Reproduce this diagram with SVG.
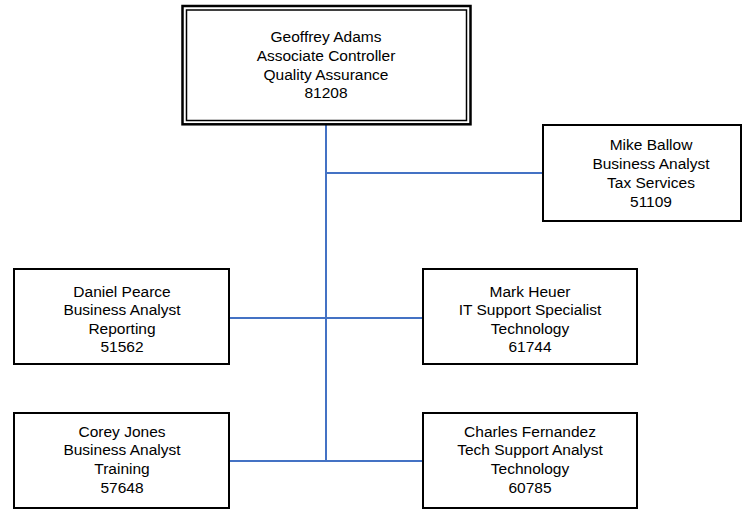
<svg xmlns="http://www.w3.org/2000/svg" width="743" height="509" viewBox="0 0 743 509">
<style>
.box{fill:#fff;stroke:#000;stroke-width:2}
.t{font-family:"Liberation Sans",Arial,sans-serif;font-size:15.5px;fill:#000;text-anchor:middle}
.c{stroke:#4472C4;stroke-width:2;fill:none}
</style>
<rect width="743" height="509" fill="#fff"/>
<g id="connectors">
<line class="c" x1="326" y1="124" x2="326" y2="461"/>
<line class="c" x1="325" y1="173" x2="543" y2="173"/>
<line class="c" x1="229" y1="318" x2="423" y2="318"/>
<line class="c" x1="229" y1="461" x2="423" y2="461"/>
</g>
<g id="geoffrey">
<rect x="182.5" y="6" width="288" height="118.3" fill="#fff" stroke="#000" stroke-width="2.5"/>
<rect x="186.5" y="10" width="280" height="110.5" fill="none" stroke="#000" stroke-width="1.5"/>
<text class="t" x="326"><tspan x="326" y="42">Geoffrey Adams</tspan><tspan x="326" y="61">Associate Controller</tspan><tspan x="326" y="80">Quality Assurance</tspan><tspan x="326" y="98">81208</tspan></text>
</g>
<g id="mike">
<rect class="box" x="543" y="125" width="198" height="96"/>
<text class="t"><tspan x="651" y="150">Mike Ballow</tspan><tspan x="651" y="169">Business Analyst</tspan><tspan x="651" y="188">Tax Services</tspan><tspan x="651" y="207">51109</tspan></text>
</g>
<g id="daniel">
<rect class="box" x="14" y="269" width="215" height="95"/>
<text class="t"><tspan x="122" y="297">Daniel Pearce</tspan><tspan x="122" y="315">Business Analyst</tspan><tspan x="122" y="334">Reporting</tspan><tspan x="122" y="352">51562</tspan></text>
</g>
<g id="mark">
<rect class="box" x="423" y="269" width="214" height="95"/>
<text class="t"><tspan x="530" y="297">Mark Heuer</tspan><tspan x="530" y="315">IT Support Specialist</tspan><tspan x="530" y="334">Technology</tspan><tspan x="530" y="352">61744</tspan></text>
</g>
<g id="corey">
<rect class="box" x="14" y="413" width="215" height="95"/>
<text class="t"><tspan x="122" y="437">Corey Jones</tspan><tspan x="122" y="455">Business Analyst</tspan><tspan x="122" y="474">Training</tspan><tspan x="122" y="493">57648</tspan></text>
</g>
<g id="charles">
<rect class="box" x="423" y="413" width="214" height="95"/>
<text class="t"><tspan x="530" y="437">Charles Fernandez</tspan><tspan x="530" y="455">Tech Support Analyst</tspan><tspan x="530" y="474">Technology</tspan><tspan x="530" y="493">60785</tspan></text>
</g>
</svg>
